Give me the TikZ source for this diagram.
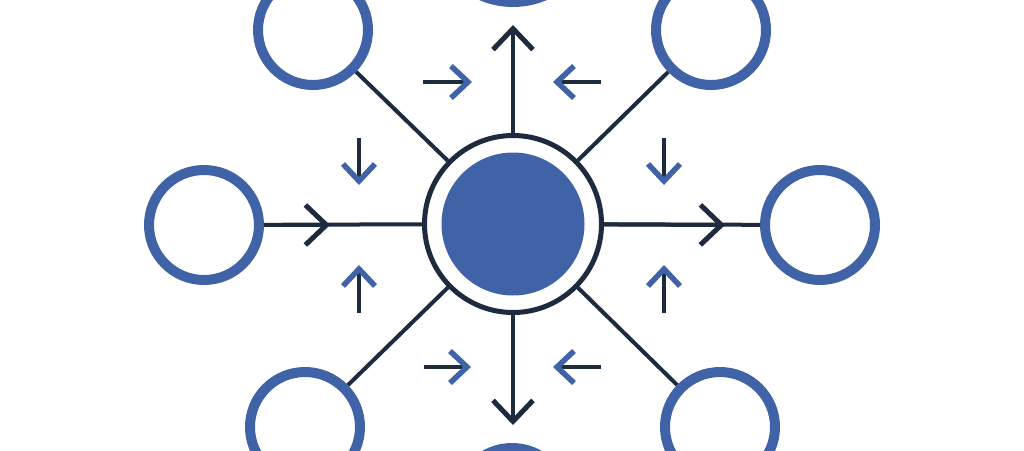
\documentclass[tikz,border=0pt]{standalone}
\usetikzlibrary{arrows.meta}
\definecolor{nodeblue}{RGB}{63,99,166}
\definecolor{navy}{RGB}{30,43,62}
\begin{document}
\begin{tikzpicture}[x=1pt,y=-1pt,
  ring/.style={circle, draw=nodeblue, line width=10pt, minimum size=110pt, inner sep=0pt, fill=white},
  solidring/.style={circle, draw=nodeblue, fill=nodeblue, line width=10pt, inner sep=0pt},
  hub/.style={circle, draw=navy, line width=5pt, minimum size=177pt, inner sep=0pt, fill=white},
  core/.style={circle, fill=nodeblue, minimum size=143pt, inner sep=0pt},
  link/.style={draw=navy, line width=4pt},
  chev/.style={-{Straight Barb[length=21pt,width=40pt,line width'=5pt]}},
  minorarrow/.style={draw=navy, line width=4pt, -{Straight Barb[length=17pt,width=32pt,line width'=5.5pt,color=nodeblue]}}
]
\useasboundingbox (0,0) rectangle (1024,450);
\fill[white] (0,0) rectangle (1024,450);
\clip (0,0) rectangle (1024,450);

% nodes
\node[hub] (hub) at (513,224) {};
\node[core] (core) at (513,224) {};
\node[ring] (L) at (204,225) {};
\node[ring] (R) at (820,225) {};
\node[ring] (TL) at (313,30) {};
\node[ring] (TR) at (711,30) {};
\node[ring] (BL) at (305,427) {};
\node[ring] (BR) at (720,427) {};
\node[solidring, minimum size=160pt] (T) at (513,-78) {};
\node[solidring, minimum size=110pt] (B) at (512,503) {};

% chevron points and arrow ends
\coordinate (la) at (330,225);
\coordinate (ra) at (725,225);
\coordinate (ta) at (513,25);
\coordinate (ba) at (513,425);

% connectors
\draw[link] (L) -- (hub);
\draw[link] (hub) -- (R);
\draw[link, chev] (L) -- (la);
\draw[link, chev] (hub) -- (ra);
\draw[link, chev] (hub) -- (ta);
\draw[link, chev] (hub) -- (ba);
\draw[link] (TL) -- (hub);
\draw[link] (TR) -- (hub);
\draw[link] (BL) -- (hub);
\draw[link] (BR) -- (hub);

% small flow arrows
\coordinate (s1a) at (423,82);  \coordinate (s1b) at (472,82);
\coordinate (s2a) at (601,82);  \coordinate (s2b) at (553,82);
\coordinate (s3a) at (424,367); \coordinate (s3b) at (471,367);
\coordinate (s4a) at (601,367); \coordinate (s4b) at (553,367);
\coordinate (s5a) at (359,138); \coordinate (s5b) at (359,185);
\coordinate (s6a) at (359,313); \coordinate (s6b) at (359,265);
\coordinate (s7a) at (664,138); \coordinate (s7b) at (664,185);
\coordinate (s8a) at (664,313); \coordinate (s8b) at (664,265);
\foreach \i in {1,...,8} {\draw[minorarrow] (s\i a) -- (s\i b);}
\end{tikzpicture}
\end{document}
